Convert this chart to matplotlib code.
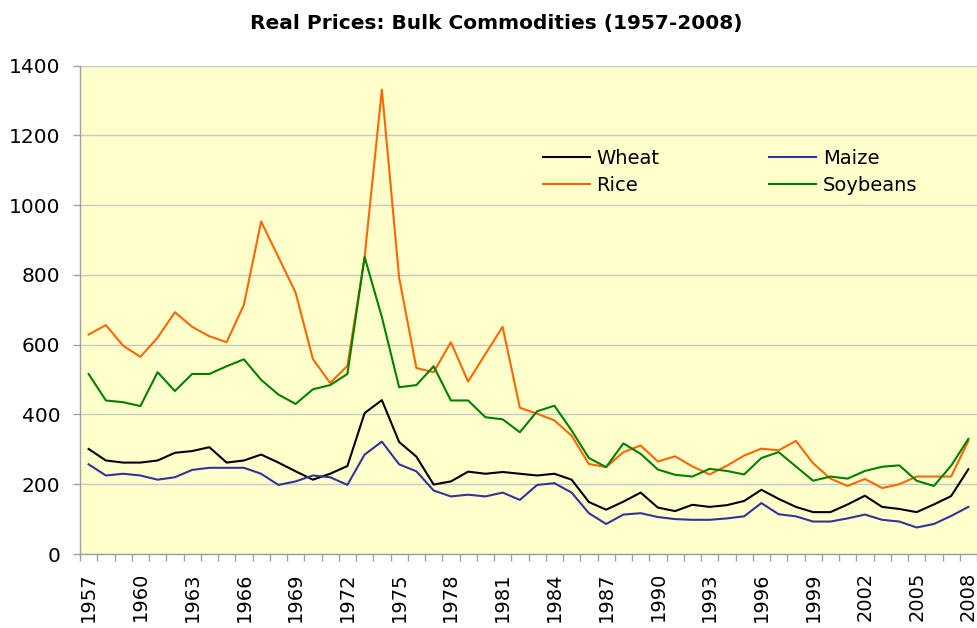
import matplotlib
matplotlib.use("Agg")
import matplotlib.pyplot as plt
from matplotlib.ticker import FixedLocator, FixedFormatter
import numpy as np

years = list(range(1957, 2009))
wheat = [301, 268, 262, 262, 268, 290, 295, 306, 262, 268, 285, 262, 237, 213, 230, 252,
         404, 441, 321, 279, 199, 208, 236, 230, 235, 230, 225, 230, 213, 149, 127, 150,
         176, 133, 123, 141, 135, 140, 152, 184, 158, 135, 120, 120, 142, 167, 135, 129,
         120, 142, 166, 243]
maize = [257, 225, 230, 225, 213, 220, 241, 247, 247, 247, 230, 198, 208, 225, 220, 198,
         285, 322, 257, 237, 182, 165, 170, 165, 176, 155, 198, 203, 176, 117, 86, 113,
         117, 106, 100, 98, 98, 102, 108, 146, 114, 108, 93, 93, 102, 113, 98, 93,
         76, 86, 109, 135]
rice = [629, 656, 597, 565, 620, 693, 651, 624, 607, 714, 953, 851, 749, 559, 490, 539,
        851, 1331, 792, 533, 521, 607, 494, 573, 651, 419, 402, 383, 339, 258, 249, 292,
        311, 265, 280, 251, 228, 253, 282, 302, 297, 324, 260, 216, 195, 215, 189, 200,
        222, 222, 222, 324]
soybeans = [516, 440, 435, 424, 521, 467, 516, 516, 538, 558, 499, 457, 430, 472, 484, 516,
            851, 679, 478, 484, 538, 440, 440, 392, 386, 349, 409, 425, 354, 275, 249, 317,
            287, 242, 227, 222, 244, 238, 228, 275, 292, 251, 210, 222, 216, 238, 250, 254,
            210, 195, 253, 330]
title = "Real Prices: Bulk Commodities (1957-2008)"

plt.rcParams['font.family'] = ['DejaVu Sans']

fig = plt.figure(figsize=(9.78, 6.28), dpi=100)
ax = fig.add_axes([80/978, (628-554)/628, (977-80)/978, (554-65.5)/628])
ax.set_facecolor('#FFFFCC')

x = np.arange(len(years))
l1, = ax.plot(x, wheat, color='black', lw=1.5, label='Wheat')
l2, = ax.plot(x, maize, color='#333399', lw=1.5, label='Maize')
l3, = ax.plot(x, rice, color='#FF6600', lw=1.5, label='Rice')
l4, = ax.plot(x, soybeans, color='#008000', lw=1.5, label='Soybeans')

ax.set_xlim(-0.5, len(years) - 0.5)
ax.set_ylim(0, 1400)
ax.set_yticks(range(0, 1401, 200))
ax.yaxis.grid(True, color='#C8C8C8', lw=1.0)
ax.set_axisbelow(True)

# x labels every 3 years, tick marks between categories
lab_idx = [i for i in range(len(years)) if (years[i] - 1957) % 3 == 0]
ax.xaxis.set_major_locator(FixedLocator(lab_idx))
ax.xaxis.set_major_formatter(FixedFormatter([str(years[i]) for i in lab_idx]))
ax.xaxis.set_minor_locator(FixedLocator(np.arange(-0.5, len(years), 1.0)))
ax.tick_params(axis='x', which='major', length=0, pad=13, labelsize=14, rotation=90)
ax.tick_params(axis='x', which='minor', length=5, color='#A0A0A0', width=1)
ax.tick_params(axis='y', which='major', length=5, color='#A0A0A0', width=1, pad=9, labelsize=14.5)

for s in ['top', 'right']:
    ax.spines[s].set_visible(False)
for s in ['left', 'bottom']:
    ax.spines[s].set_color('#A0A0A0')
    ax.spines[s].set_linewidth(1.0)

fig.text(496/978, 1 - 23/628, title, ha='center', va='center', fontsize=14.5, fontweight='bold')

leg = ax.legend(handles=[l1, l3, l2, l4], labels=['Wheat', 'Rice', 'Maize', 'Soybeans'],
                ncol=2, loc='upper left', bbox_to_anchor=(543/978, 1 - 149/628),
                bbox_transform=fig.transFigure, frameon=False, fontsize=14,
                handlelength=2.4, handletextpad=0.35, columnspacing=5.65,
                labelspacing=0.42, borderpad=0, borderaxespad=0)

fig.savefig('out.png', dpi=100)
